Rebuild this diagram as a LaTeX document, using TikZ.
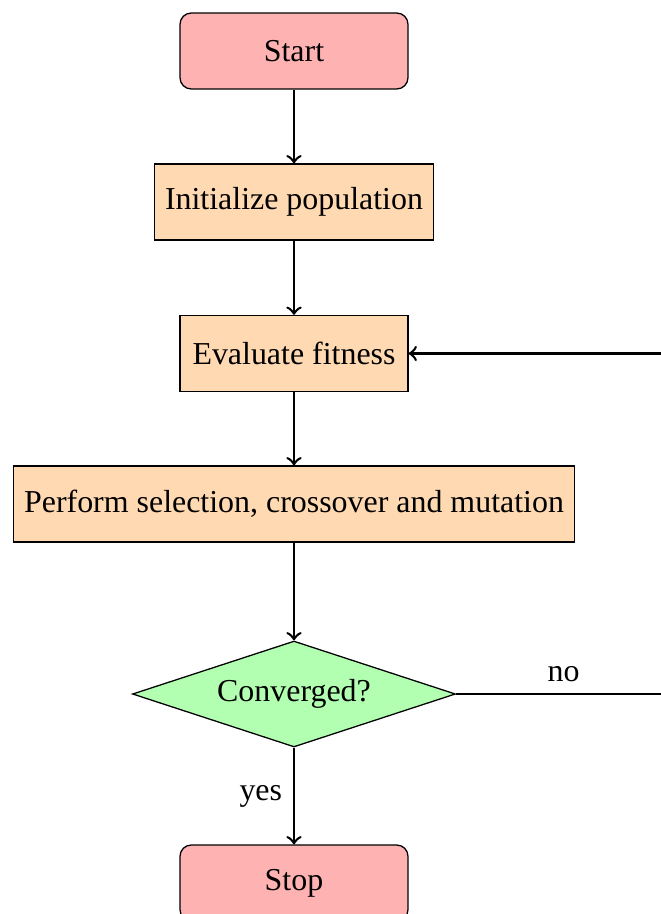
\documentclass[tikz,border=0pt]{standalone}
\usepackage{fontspec}
\setmainfont{Liberation Serif}
\usetikzlibrary{shapes.geometric}
\tikzset{
  terminal/.style={draw, rounded corners=3.5pt, fill=red!30, minimum width=71.4pt, minimum height=23.8pt},
  process/.style={draw, fill=orange!30, minimum width=71.4pt, minimum height=23.8pt},
  decision/.style={draw, diamond, aspect=3, inner sep=0pt, fill=green!30, minimum width=101.2pt, minimum height=33.2pt},
  flow/.style={draw, thick, ->}
}
\begin{document}
\begin{tikzpicture}[x=0.3133pt, y=-0.3133pt]
  \useasboundingbox (0,0) rectangle (661,914);
  \node[terminal] (start) at (294,51) {Start};
  \node[process] (init) at (294,202) {Initialize population};
  \node[process] (eval) at (294,353.5) {Evaluate fitness};
  \node[process] (ops) at (294,504) {Perform selection, crossover and mutation};
  \node[decision] (conv) at (294,694) {Converged?};
  \node[terminal] (stop) at (294,883) {Stop};
  \coordinate (loopdown) at (680,694);
  \coordinate (loopup) at (680,353.5);

  \draw[flow] (start) -- (init);
  \draw[flow] (init) -- (eval);
  \draw[flow] (eval) -- (ops);
  \draw[flow] (ops) -- (conv);
  \draw[flow] (conv) -- node[left] {yes} (stop);
  \draw[thick] (conv.east) -- node[above, pos=0.48] {no} (loopdown);
  \draw[flow] (loopdown) -- (loopup) -- (eval.east);
\end{tikzpicture}
\end{document}
